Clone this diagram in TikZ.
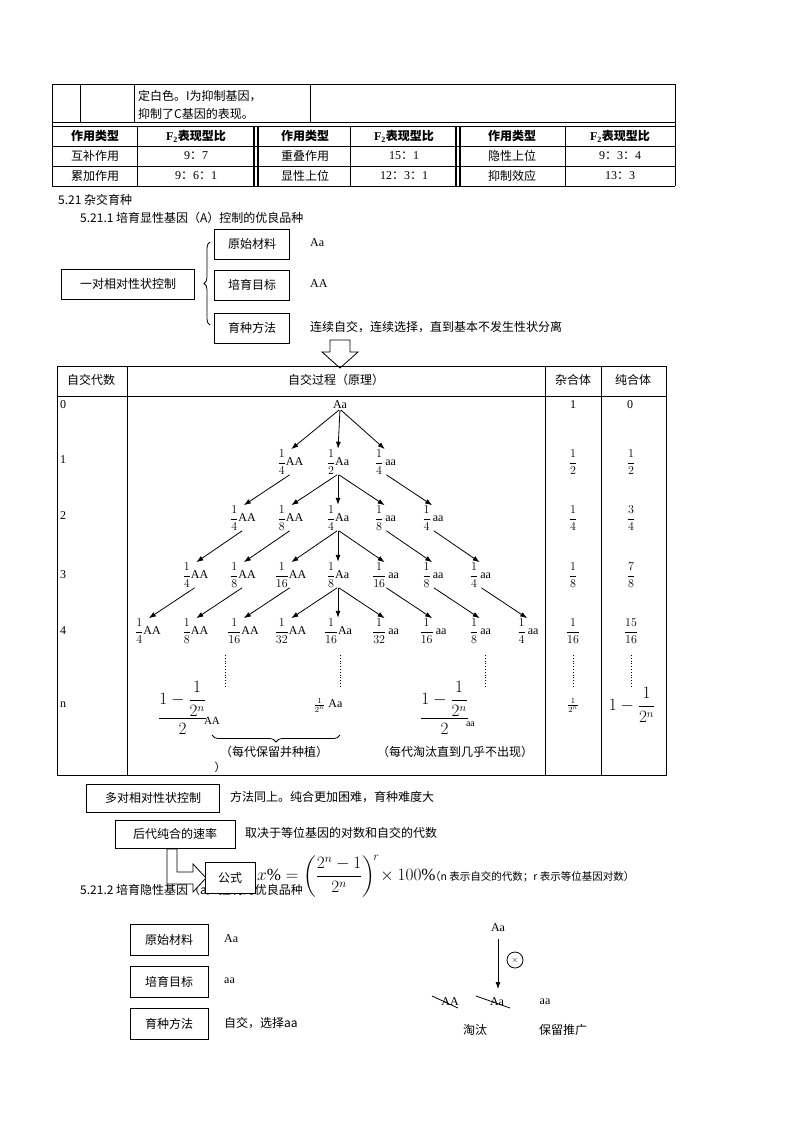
\documentclass[tikz,border=0pt]{standalone}
\usepackage{fontspec}
\usepackage{amsmath}
\setmainfont{Liberation Serif}
\newfontfamily\cj{Noto Sans CJK SC}
\usetikzlibrary{arrows.meta,decorations.pathreplacing}
\begin{document}
\begin{tikzpicture}[x=1pt,y=-1pt,
  every node/.style={font=\fontsize{12}{14}\selectfont},
  bx/.style={draw,thick,minimum height=30pt,inner xsep=6pt,font=\cj\fontsize{12}{14}\selectfont},
  lb/.style={anchor=west,inner sep=0pt},
  ar/.style={-{Latex[length=7pt,width=5pt]},thick,shorten <=1pt,shorten >=1pt},
  it/.style={inner sep=0pt,font=\fontsize{12}{14}\selectfont}]
\useasboundingbox (0,0) rectangle (800,1132);
% top table
\draw[thick] (52,84) -- (675,84);
\draw[thick] (52,84) -- (52,186) (80,84)--(80,122) (134,84)--(134,122) (310,84)--(310,122) (675,84)--(675,186);
\draw[thick] (52,122)--(675,122) (52,126)--(675,126) (52,146)--(675,146) (52,166)--(675,166) (52,186)--(675,186);
\draw[thick] (137,126)--(137,186) (350,126)--(350,186) (565,126)--(565,186);
\draw[line width=1.5pt] (254,126)--(254,186) (258,126)--(258,186) (456,126)--(456,186) (460,126)--(460,186);
\node[lb,font=\cj\fontsize{12}{14}\selectfont] (t1) at (138,96) {定白色。I为抑制基因，};
\node[lb,font=\cj\fontsize{12}{14}\selectfont] (t2) at (138,114) {抑制了C基因的表现。};
\foreach \x/\t in {95/作用类型,305/作用类型,512/作用类型}
  \node[font=\cj\bfseries\fontsize{12}{14}\selectfont] at (\x,136) {\t};
\foreach \x in {196,404,620}
  \node[font=\bfseries\fontsize{12}{14}\selectfont] at (\x,136) {F\textsubscript{2}{\cj 表现型比}};
\foreach \x/\y/\t in {95/156/互补作用,95/176/累加作用,305/156/重叠作用,305/176/显性上位,512/156/隐性上位,512/176/抑制效应}
  \node[font=\cj\fontsize{12}{14}\selectfont] at (\x,\y) {\t};
\foreach \x/\y/\t in {196/156/9{\cj：}7,196/176/9{\cj：}6{\cj：}1,404/156/15{\cj：}1,404/176/12{\cj：}3{\cj：}1,620/156/9{\cj：}3{\cj：}4,620/176/13{\cj：}3}
  \node at (\x,\y) {\t};
% headings
\node[lb,font=\cj\fontsize{12}{14}\selectfont] (h1) at (58,200) {5.21 杂交育种};
\node[lb,font=\cj\fontsize{12}{14}\selectfont] (h2) at (80,218) {5.21.1 培育显性基因（A）控制的优良品种};
% upper boxes
\node[bx,minimum width=75pt] (b1) at (252,244) {原始材料};
\node[bx,minimum width=75pt] (b2) at (252,285) {培育目标};
\node[bx,minimum width=75pt] (b3) at (252,328) {育种方法};
\node[bx,minimum width=133pt] (b0) at (128,284) {一对相对性状控制};
\draw[thick,decorate,decoration={brace,amplitude=6pt}] (210,325) -- (210,242);
\node[lb] (v1) at (310,243) {Aa};
\node[lb] (v2) at (310,284) {AA};
\node[lb,font=\cj\fontsize{12}{14}\selectfont] (v3) at (310,327) {连续自交，连续选择，直到基本不发生性状分离};
\draw[thick,fill=white] (330,340)--(350,340)--(350,352)--(358,352)--(340,368)--(322,352)--(330,352)--cycle;
% big table
\draw[thick] (57,366) rectangle (666,775);
\draw[thick] (57,396)--(666,396) (127,366)--(127,775) (545,366)--(545,775) (601,366)--(601,775);
\node[font=\cj\fontsize{12}{14}\selectfont] at (91,380) {自交代数};
\node[font=\cj\fontsize{12}{14}\selectfont] at (336,380) {自交过程（原理）};
\node[font=\cj\fontsize{12}{14}\selectfont] at (573,380) {杂合体};
\node[font=\cj\fontsize{12}{14}\selectfont] at (633,380) {纯合体};
\foreach \y/\t in {405/0,460/1,516/2,575/3,631/4,705/n} \node at (63,\y) {\t};
\node at (573,405) {1}; \node at (630,405) {0};
\foreach \y/\d/\p in {462/2/1,518/4/3,575/8/7,631/16/15}{
  \node at (573,\y) {$\dfrac{1}{\d}$};
  \node at (631,\y) {$\dfrac{\p}{\d}$};}
\draw[thick,dotted] (573,655)--(573,688) (631,655)--(631,688) (225,655)--(225,688) (340,655)--(340,688) (485,655)--(485,688);
\node at (573,705) {$\frac{1}{2^n}$};
\node at (632,705) {\fontsize{16}{18}\selectfont$1-\dfrac{1}{2^n}$};
% tree
\node[it] (n-0-0) at (340,405) {Aa};
\foreach \r/\y/\L in {1/462/{4,2,4},2/518/{4,8,4,8,4},3/575/{4,8,16,8,16,8,4},4/631/{4,8,16,32,16,32,16,8,4}}{
  \foreach \d [count=\c from 0] in \L {
    \ifnum\c<\r \def\g{AA}\else\ifnum\c=\r \def\g{Aa}\else\def\g{\,aa}\fi\fi
    \node[it] (n-\r-\c) at ({338+(\c-\r)*47.5},\y) {$\dfrac{1}{\d}$\g};
  }}
\foreach \r in {0,1,2,3}{
  \pgfmathtruncatemacro\rr{\r+1}
  \pgfmathtruncatemacro\m{2*\r}
  \foreach \k in {0,...,\m}{
    \pgfmathtruncatemacro\ka{\k+1}
    \pgfmathtruncatemacro\kb{\k+2}
    \ifnum\k<\r \draw[ar] (n-\r-\k.south) -- (n-\rr-\k.north);\fi
    \ifnum\k=\r \draw[ar] (n-\r-\k.south) -- (n-\rr-\k.north);
      \draw[ar] (n-\r-\k.south) -- (n-\rr-\ka.north);
      \draw[ar] (n-\r-\k.south) -- (n-\rr-\kb.north);\fi
    \ifnum\k>\r \draw[ar] (n-\r-\k.south) -- (n-\rr-\kb.north);\fi
  }}
\node[it,anchor=west] (fa) at (158,708) {\fontsize{16}{18}\selectfont$\dfrac{1-\dfrac{1}{2^n}}{2}$\hspace{-3pt}\raisebox{-2pt}{\fontsize{11}{12}\selectfont AA}};
\node[it] (fb) at (328,705) {$\frac{1}{2^n}$\ Aa};
\node[it,anchor=west] (fc) at (420,708) {\fontsize{16}{18}\selectfont$\dfrac{1-\dfrac{1}{2^n}}{2}$\hspace{-3pt}\raisebox{-4pt}{\fontsize{10}{12}\selectfont aa}};
\draw[thick,decorate,decoration={brace,amplitude=7pt,mirror}] (212,735) -- (340,735);
\node[font=\cj\fontsize{12}{14}\selectfont] at (274,752) {（每代保留并种植）};
\node[font=\cj\fontsize{12}{14}\selectfont] at (455,752) {（每代淘汰直到几乎不出现）};
\node[font=\cj\fontsize{11}{12}\selectfont] at (220,767) {）};
% lower part
\node[bx,minimum width=133pt,minimum height=28pt] (m1) at (153,798) {多对相对性状控制};
\node[lb,font=\cj\fontsize{12}{14}\selectfont] at (230,797) {方法同上。纯合更加困难，育种难度大};
\node[bx,minimum width=120pt,minimum height=28pt] (m2) at (175,834) {后代纯合的速率};
\node[lb,font=\cj\fontsize{12}{14}\selectfont] at (245,833) {取决于等位基因的对数和自交的代数};
\node[lb,font=\cj\fontsize{12}{14}\selectfont] (h3) at (80,890) {5.21.2 培育隐性基因（a）控制的优良品种};
\draw[thick,fill=white] (167,849)--(177,849)--(177,872)--(193,872)--(193,864)--(206,878)--(193,892)--(193,884)--(167,884)--cycle;
\node[bx,fill=white,minimum width=50pt,minimum height=31pt] (m3) at (230,878) {公式};
\node[lb] at (257,876) {\fontsize{17}{19}\selectfont$x\%=\left(\dfrac{2^n-1}{2^n}\right)^{\!r}\!\times100\%$};
\node[lb,font=\cj\fontsize{10.5}{12}\selectfont] at (430,877) {（\textit{n} 表示自交的代数；\textit{r} 表示等位基因对数）};
\node[bx,minimum width=78pt,minimum height=31pt] (c1) at (169,940) {原始材料};
\node[bx,minimum width=78pt,minimum height=31pt] (c2) at (169,982) {培育目标};
\node[bx,minimum width=78pt,minimum height=31pt] (c3) at (169,1024) {育种方法};
\node[lb] at (224,939) {Aa};
\node[lb] at (224,981) {aa};
\node[lb,font=\cj\fontsize{12}{14}\selectfont] at (224,1023) {自交，选择aa};
\node[it] (r0) at (498,928) {Aa};
\node[it] (r1) at (450,1002) {AA};
\node[it] (r2) at (497,1002) {Aa};
\node[it] (r3) at (545,1002) {aa};
\draw[ar] (r0.south)++(0,6) -- (498,990);
\draw[thick] (515,960) circle (8);
\node[font=\fontsize{8}{8}\selectfont,inner sep=0pt] at (515,960) {$\times$};
\draw[thick] (432,996)--(458,1008) (476,996)--(510,1008);
\node[font=\cj\fontsize{12}{14}\selectfont] at (475,1030) {淘汰};
\node[font=\cj\fontsize{12}{14}\selectfont] at (563,1030) {保留推广};
\end{tikzpicture}
\end{document}
